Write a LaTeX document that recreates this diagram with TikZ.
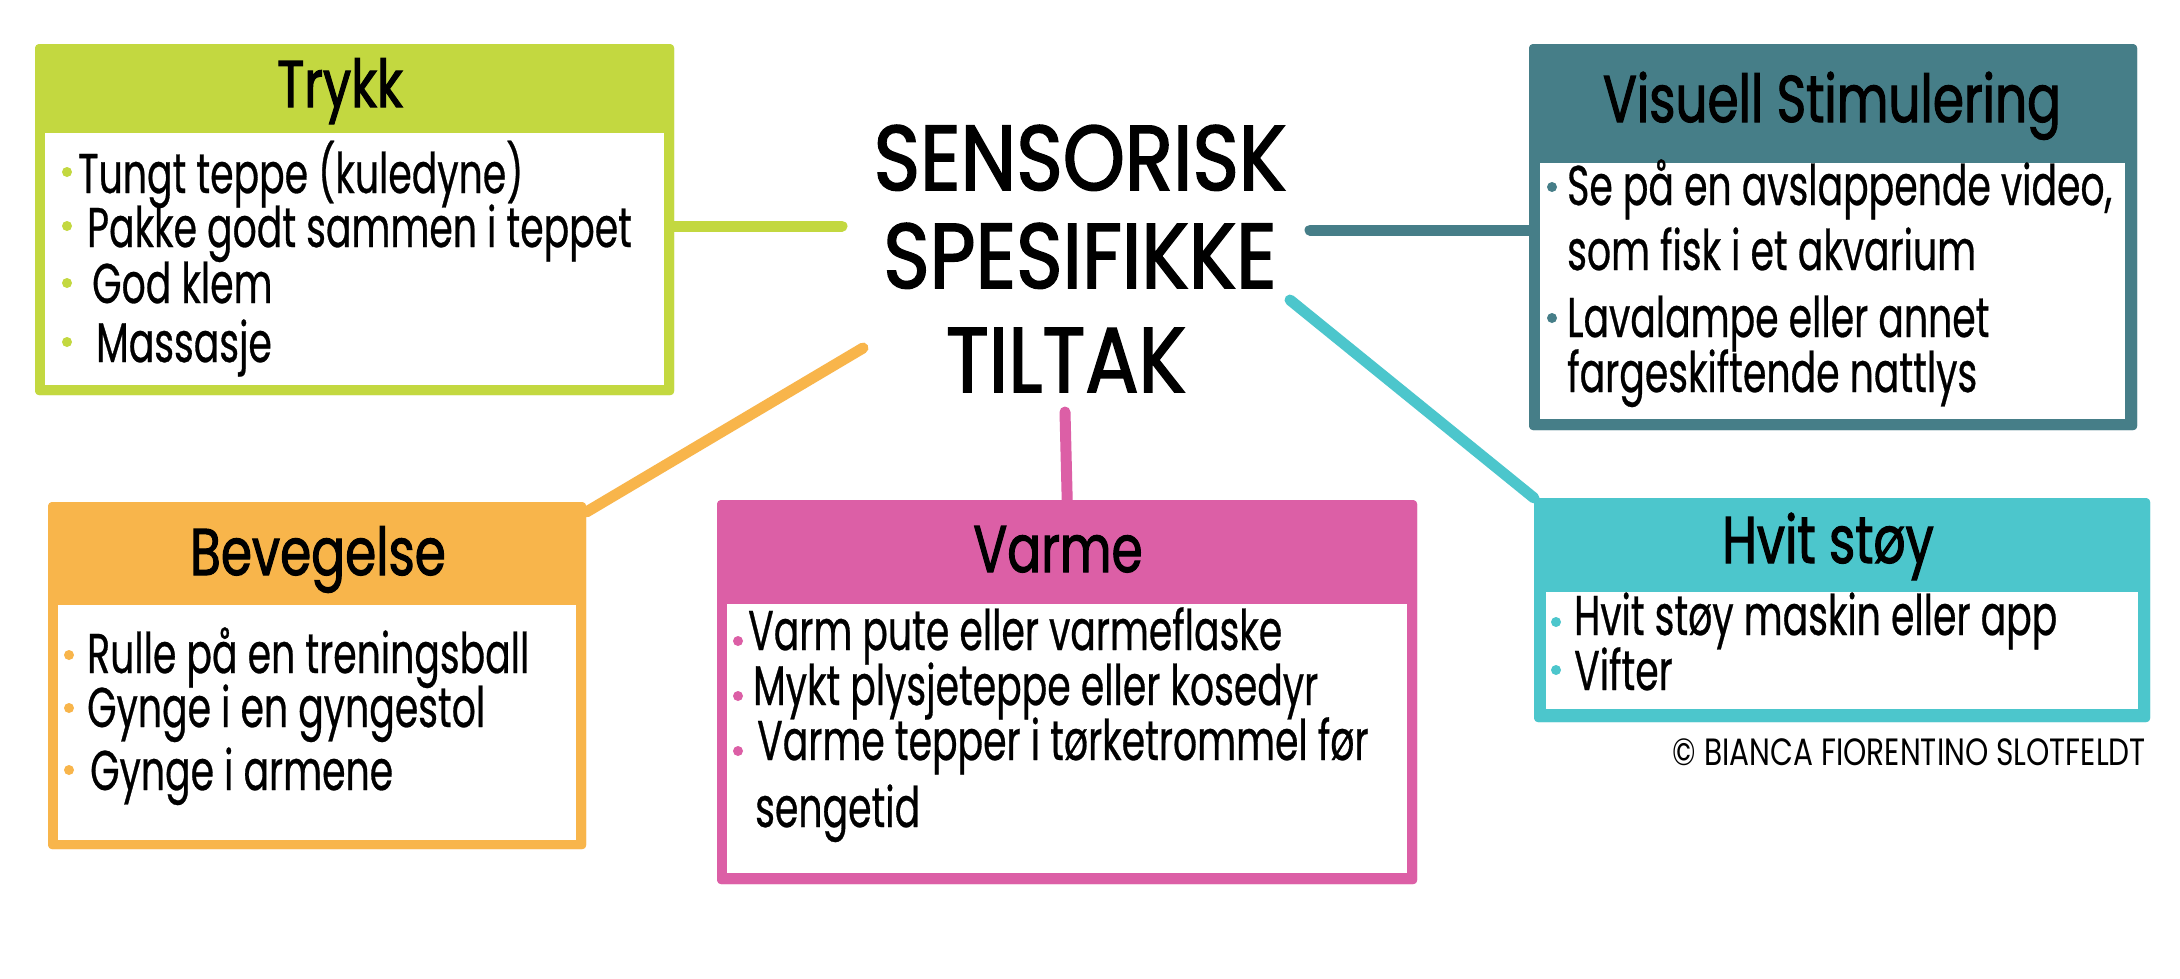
\documentclass[tikz,border=0pt]{standalone}
\usepackage{fontspec}
\setmainfont{Poppins}
\newfontfamily\hand[FakeStretch=0.675,FakeBold=0.5]{Poppins}
\newfontfamily\headfont[FakeStretch=0.76,FakeBold=1.6]{Poppins}
\newfontfamily\bigtitle[FakeStretch=0.86,FakeBold=1.8]{Poppins}
\newfontfamily\copyfont[FakeStretch=0.78]{Poppins}
\usetikzlibrary{calc}
\definecolor{cgreen}{HTML}{C3D840}
\definecolor{cteal}{HTML}{467E88}
\definecolor{corange}{HTML}{F8B54B}
\definecolor{cpink}{HTML}{DC5FA6}
\definecolor{ccyan}{HTML}{4CC6CC}
\begin{document}
\begin{tikzpicture}[x=1pt,y=-1pt,
  conn/.style={line width=11pt, line cap=round},
  box/.style={fill=#1, rounded corners=4pt, inner sep=0pt, anchor=north west},
  head/.style={font=\headfont\fontsize{66}{66}\selectfont, anchor=base, inner sep=0pt},
  item/.style={font=\hand\fontsize{56}{56}\selectfont, anchor=base west, inner sep=0pt},
  dot/.style={circle, fill=#1, inner sep=0pt, minimum size=10pt},
  center/.style={font=\bigtitle\fontsize{92}{92}\selectfont, anchor=base, inner sep=0pt},
]
\useasboundingbox (0,0) rectangle (2180,978);
\fill[white] (0,0) rectangle (2180,978);

% free ends of connectors
\coordinate (ctr) at (842,226);
\coordinate (cvi) at (1310,230);
\coordinate (cbe) at (863,348);
\coordinate (cva) at (1065,412);
\coordinate (chv) at (1290,300);

% boxes
\node[box=cgreen, minimum width=639pt, minimum height=351pt] (trykk) at (35,44) {};
\node[box=cteal, minimum width=608pt, minimum height=386pt] (vis) at (1529,44) {};
\node[box=corange, minimum width=538pt, minimum height=347pt] (bev) at (48,502) {};
\node[box=cpink, minimum width=700pt, minimum height=384pt] (varme) at (717,500) {};
\node[box=ccyan, minimum width=616pt, minimum height=224pt] (hvit) at (1534,498) {};

% connectors
\draw[conn,cgreen] (ctr) -- (trykk.east |- ctr);
\draw[conn,cteal] (cvi) -- (vis.west |- cvi);
\draw[conn,corange] (cbe) -- ($(bev.north east)+(0,10)$);
\draw[conn,cpink] (cva) -- (varme.north);
\draw[conn,ccyan] (chv) -- (hvit.north west);

% redraw boxes on top of connector ends
\fill[cgreen, rounded corners=4pt] (35,44) rectangle (674,395);
\fill[cteal, rounded corners=4pt] (1529,44) rectangle (2137,430);
\fill[corange, rounded corners=4pt] (48,502) rectangle (586,849);
\fill[cpink, rounded corners=4pt] (717,500) rectangle (1417,884);
\fill[ccyan, rounded corners=4pt] (1534,498) rectangle (2150,722);

% white inner panels
\fill[white] (45,133) rectangle (664,385);
\fill[white] (1540,163) rectangle (2125,419);
\fill[white] (58,605) rectangle (576,840);
\fill[white] (727,604) rectangle (1407,873);
\fill[white] (1546,592) rectangle (2138,709);

% centre title
\node[center] (m1) at (1080,190) {SENSORISK};
\node[center] (m2) at (1080,288) {SPESIFIKKE};
\node[center] (m3) at (1066,392) {TILTAK};

% Trykk
\node[head] (tt) at (340,107) {Trykk};
\node[dot=cgreen] (tb1) at (67,172) {};
\node[dot=cgreen] (tb2) at (67,226) {};
\node[dot=cgreen] (tb3) at (67,283) {};
\node[dot=cgreen] (tb4) at (67,342) {};
\node[item] (ti1) at (78,193) {Tungt teppe (kuledyne)};
\node[item] (ti2) at (87,247) {Pakke godt sammen i teppet};
\node[item] (ti3) at (92,303) {God klem};
\node[item] (ti4) at (96,362) {Massasje};

% Visuell Stimulering
\node[head] (vt) at (1832,122) {Visuell Stimulering};
\node[dot=cteal] (vb1) at (1552,187) {};
\node[dot=cteal] (vb2) at (1552,318) {};
\node[item] (vi1) at (1567,205) {Se på en avslappende video,};
\node[item] (vi2) at (1567,270) {som fisk i et akvarium};
\node[item] (vi3) at (1567,337) {Lavalampe eller annet};
\node[item] (vi4) at (1567,392) {fargeskiftende nattlys};

% Bevegelse
\node[head] (bt) at (318,575) {Bevegelse};
\node[dot=corange] (bb1) at (69,655) {};
\node[dot=corange] (bb2) at (69,708) {};
\node[dot=corange] (bb3) at (69,770) {};
\node[item] (bi1) at (87,673) {Rulle på en treningsball};
\node[item] (bi2) at (87,727) {Gynge i en gyngestol};
\node[item] (bi3) at (90,790) {Gynge i armene};

% Varme
\node[head] (wt) at (1058,572) {Varme};
\node[dot=cpink] (wb1) at (738,641) {};
\node[dot=cpink] (wb2) at (738,696) {};
\node[dot=cpink] (wb3) at (738,751) {};
\node[item] (wi1) at (748,650) {Varm pute eller varmeflaske};
\node[item] (wi2) at (753,705) {Mykt plysjeteppe eller kosedyr};
\node[item] (wi3) at (757,760) {Varme tepper i tørketrommel før};
\node[item] (wi4) at (755,827) {sengetid};

% Hvit støy
\node[head] (ht) at (1828,563) {Hvit støy};
\node[dot=ccyan] (hb1) at (1556,622) {};
\node[dot=ccyan] (hb2) at (1556,670) {};
\node[item] (hi1) at (1574,635) {Hvit støy maskin eller app};
\node[item] (hi2) at (1574,690) {Vifter};

% copyright
\node[font=\copyfont\fontsize{38}{38}\selectfont, anchor=base east, inner sep=0pt] (copy) at (2146,765) {© BIANCA FIORENTINO SLOTFELDT};
\end{tikzpicture}
\end{document}
